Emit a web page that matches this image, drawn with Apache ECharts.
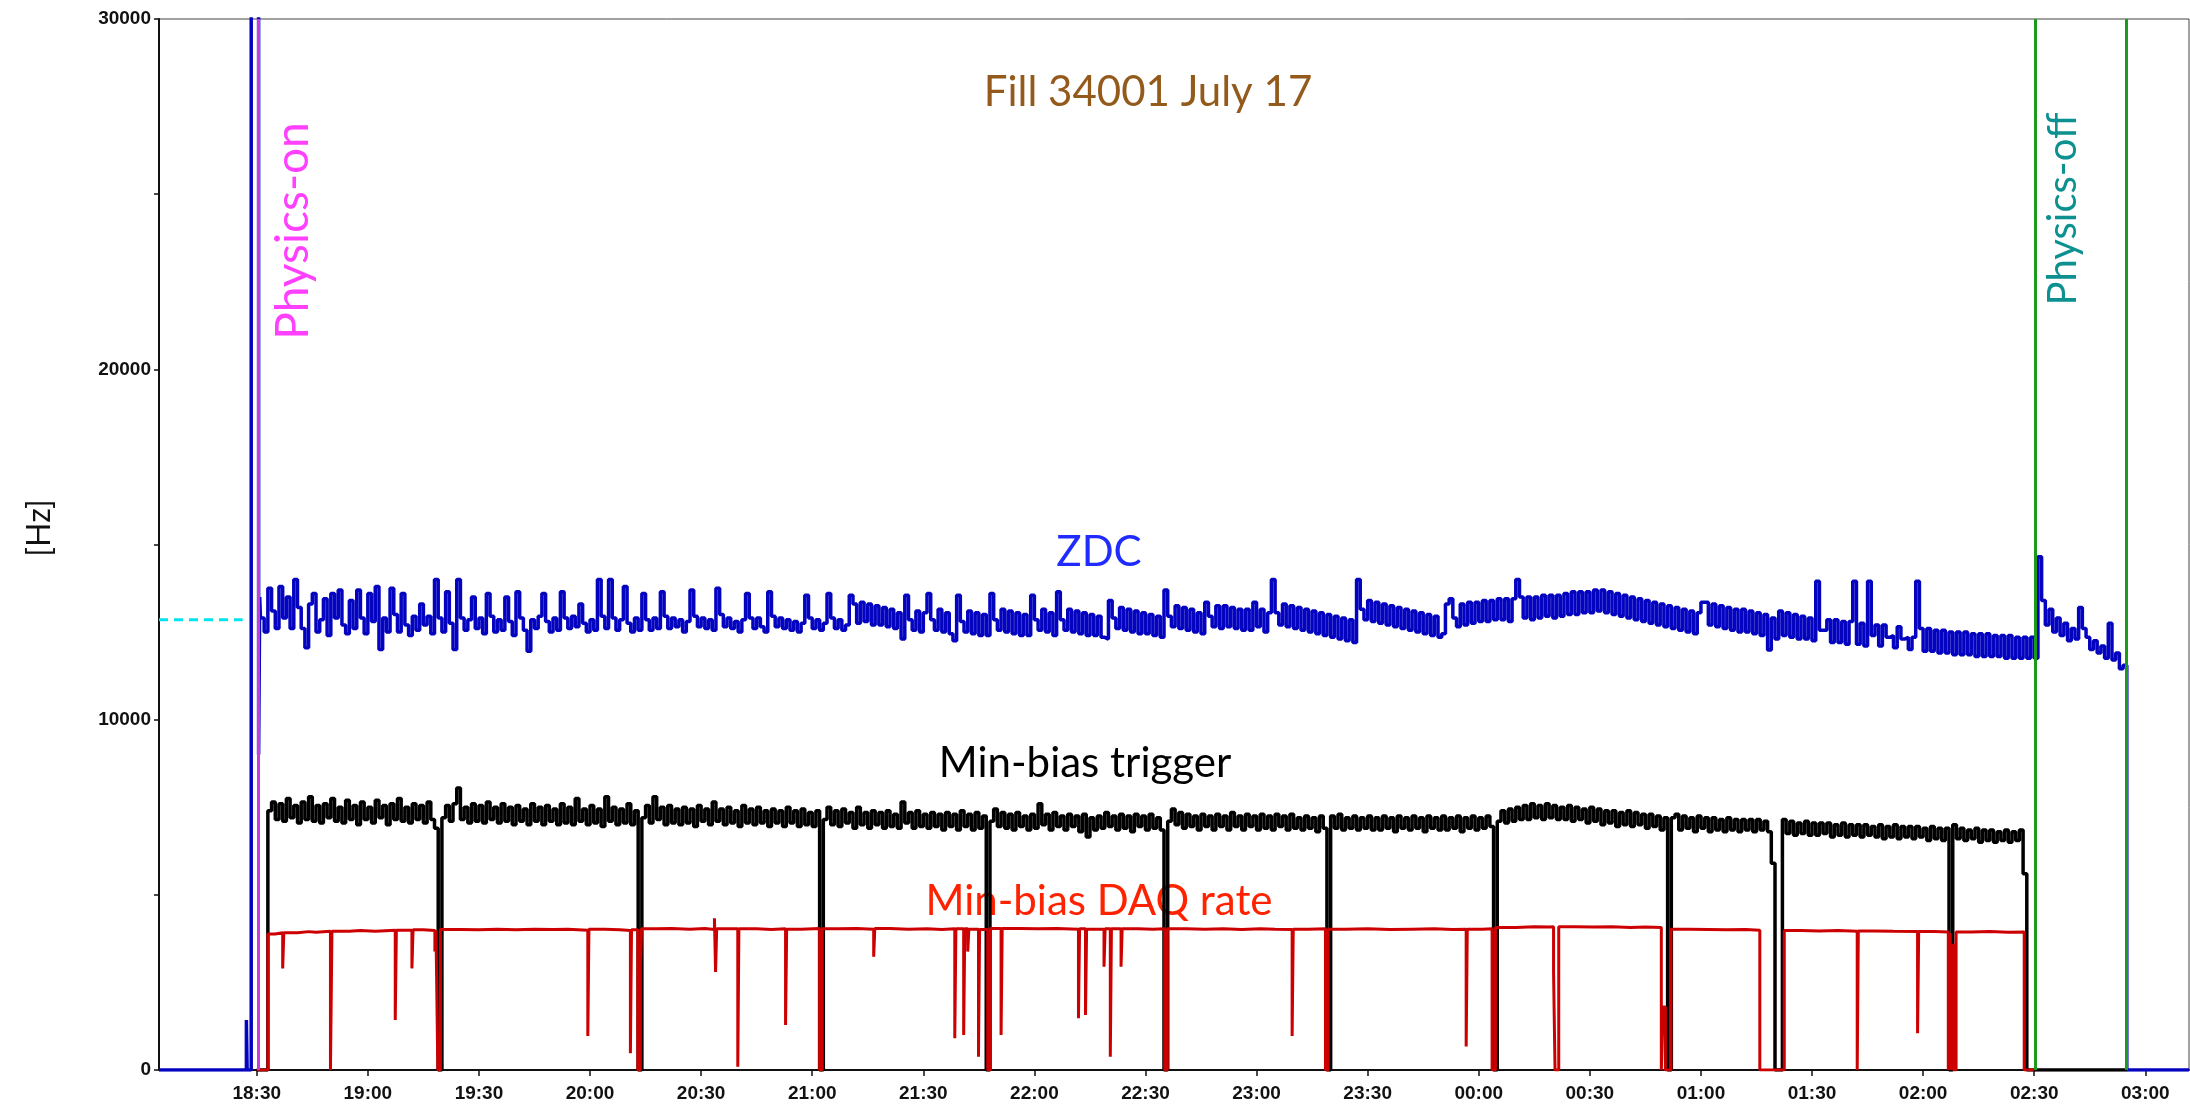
<!DOCTYPE html>
<html>
<head>
<meta charset="utf-8">
<title>Fill 34001 July 17</title>
<script src="https://cdn.jsdelivr.net/npm/echarts@6/dist/echarts.min.js"></script>
<style>
  html, body { margin: 0; padding: 0; background: #fff; }
  #main { width: 2190px; height: 1107px; }
</style>
</head>
<body>
<div id="main"></div>
<script>
// all times are minutes after 18:00 (July 17)
const tickMinutes = [30, 60, 90, 120, 150, 180, 210, 240, 270, 300, 330, 360, 390, 420, 450, 480, 510, 540];
const tickLabels = ['18:30', '19:00', '19:30', '20:00', '20:30', '21:00', '21:30', '22:00', '22:30',
  '23:00', '23:30', '00:00', '00:30', '01:00', '01:30', '02:00', '02:30', '03:00'];

const physicsOn = [30.3];
const physicsOff = [510.3, 534.9];

// dashed reference level before physics-on
const refLevel = 12850;
const refSpan = [3.6, 26.2];

// ZDC rate [Hz]
const zdcLead = [[3.6, 0], [27.2, 1430], [27.4, 0], [28.5, 40000], [30.5, 9000], [30.8, 13500]];
const zdcStart = 31; // one value per minute from here
const zdcRate = [
  12900, 12500, 13750, 13100, 12600, 13800, 12900, 13500, 12600, 14000,
  13200, 12600, 12050, 13300, 13600, 12500, 12850, 13450, 12400, 13600,
  12900, 13700, 12700, 12450, 13400, 12600, 13700, 12900, 12450, 13600,
  12800, 13800, 12000, 12900, 12500, 13750, 13000, 12500, 13600, 12700,
  12400, 12950, 12550, 13300, 12700, 12950, 12450, 14000, 12900, 12500,
  13650, 12750, 12000, 14000, 12900, 12550, 12850, 13500, 12600, 12900,
  12450, 13600, 12950, 12500, 12850, 12550, 13500, 12800, 12400, 13650,
  12900, 12550, 11950, 12850, 12600, 12950, 13600, 12800, 12500, 12900,
  12550, 13650, 12900, 12600, 12950, 12650, 13300, 12750, 12500, 12850,
  12550, 14000, 12950, 12600, 14000, 12900, 12550, 12850, 13800, 12750,
  12500, 12900, 12550, 13600, 12850, 12550, 12900, 12600, 13650, 12950,
  12600, 12900, 12650, 12850, 12500, 12800, 13700, 12950, 12650, 12900,
  12600, 12850, 12550, 13750, 13000, 12650, 12900, 12600, 12800, 12500,
  12850, 13600, 12900, 12600, 12900, 12650, 12500, 13650, 12950, 12650,
  12900, 12600, 12850, 12550, 12800, 12500, 12750, 13550, 12900, 12600,
  12850, 12550, 12750, 13600, 12900, 12600, 12850, 12550, 12700, 13550,
  13300, 12750, 13350, 12800, 13300, 12700, 13250, 12700, 13200, 12650,
  13150, 12600, 13050, 12300, 13550, 12850, 12550, 13100, 12500, 13050,
  13600, 12850, 12550, 13150, 12500, 13050, 12450, 12250, 13550, 12800,
  12500, 13100, 12450, 13050, 12400, 13000, 12400, 13600, 12850, 12550,
  13150, 12500, 13100, 12450, 13050, 12400, 13000, 12400, 13550, 12850,
  12550, 13150, 12500, 13050, 12400, 13650, 12850, 12550, 13150, 12500,
  13100, 12450, 13050, 12400, 13000, 12400, 12950, 12350, 12300, 13400,
  12900, 12600, 13200, 12550, 13150, 12500, 13100, 12450, 13050, 12450,
  13000, 12400, 12950, 12350, 13700, 12950, 12650, 13250, 12600, 13200,
  12550, 13150, 12500, 13050, 12450, 13350, 12950, 12650, 13250, 12600,
  13250, 12650, 13200, 12600, 13150, 12550, 13150, 12550, 13350, 12650,
  13150, 12500, 13050, 14000, 13050, 12700, 13300, 12650, 13250, 12600,
  13200, 12550, 13150, 12500, 13100, 12450, 13050, 12400, 13000, 12350,
  12950, 12300, 12900, 12250, 12850, 12200, 14000, 13150, 12850, 13400,
  12800, 13350, 12750, 13300, 12700, 13250, 12650, 13200, 12600, 13150,
  12550, 13100, 12500, 13050, 12450, 13000, 12400, 12950, 12350, 12450,
  13300, 13450, 12900, 12650, 13300, 12700, 13350, 12750, 13350, 12800,
  13400, 12800, 13400, 12850, 13450, 12850, 13450, 12800, 13450, 14000,
  13500, 12900, 13500, 12850, 13500, 12900, 13550, 12950, 13550, 12900,
  13550, 12950, 13600, 13000, 13650, 13000, 13650, 13050, 13650, 13050,
  13700, 13100, 13700, 13050, 13650, 13000, 13600, 12950, 13550, 12900,
  13500, 12850, 13450, 12800, 13400, 12750, 13350, 12700, 13300, 12650,
  13250, 12600, 13200, 12550, 13150, 12500, 13100, 12450, 13050, 13350,
  13350, 12700, 13300, 12650, 13250, 12600, 13200, 12550, 13150, 12500,
  13150, 12500, 13100, 12450, 13050, 12400, 13000, 11990, 12900, 12300,
  13100, 12400, 13050, 12350, 13000, 12300, 12950, 12300, 12900, 12250,
  13950, 12550, 12550, 12850, 12200, 12850, 12200, 12800, 12150, 12800,
  13950, 12150, 12750, 12100, 13950, 12400, 12700, 12100, 12700, 12350,
  12400, 12050, 12650, 12300, 12350, 12000, 12350, 13950, 12600, 11950,
  12600, 11950, 12550, 11900, 12550, 11900, 12500, 11850, 12500, 11850,
  12500, 11850, 12450, 11800, 12450, 11800, 12450, 11800, 12400, 11800,
  12400, 11750, 12400, 11750, 12350, 11750, 12350, 11750, 12350, 11750,
  14650, 13400, 12700, 13150, 12500, 12900, 12400, 12750, 12250, 12600,
  12300, 13200, 12600, 12350, 12000, 12250, 11900, 12100, 11750, 12750,
  11700, 11900, 11450, 11550
];
const zdcTail = [[535, 0], [551.8, 0]];

// Min-bias trigger rate [Hz], one value per minute, one list per run
const trigStarts = [33, 80, 134, 183, 228, 276, 320, 365, 412, 442, 488];
const trigRuns = [
  [7400, 7650, 7150, 7600, 7100, 7750, 7200, 7550, 7050, 7650,
   7150, 7800, 7100, 7550, 7050, 7600, 7200, 7750, 7100, 7500,
   7050, 7700, 7150, 7550, 7000, 7650, 7150, 7500, 7050, 7700,
   7200, 7550, 7000, 7600, 7150, 7750, 7100, 7500, 7050, 7600,
   7150, 7550, 7050, 7650, 7150, 6900],
  [7200, 7550, 7100,
   7600, 8050, 7150, 7500, 7050, 7600, 7100, 7550, 7050, 7650,
   7150, 7500, 7050, 7600, 7100, 7500, 7000, 7550, 7100, 7450,
   7000, 7600, 7100, 7500, 7000, 7550, 7100, 7450, 7000, 7600,
   7050, 7500, 7000, 7750, 7100, 7450, 7000, 7550, 7050, 7450,
   6950, 7800, 7100, 7500, 7000, 7450, 7050, 7600, 7000, 7400],
  [7200, 7550, 7050, 7800, 7150, 7500, 7000, 7550, 7050, 7450,
   7000, 7500, 7050, 7450, 6950, 7550, 7100, 7450, 7000, 7650,
   7100, 7450, 7000, 7500, 7050, 7400, 6950, 7550, 7050, 7450,
   7000, 7500, 7050, 7400, 6950, 7450, 7050, 7400, 6950, 7500,
   7050, 7400, 6950, 7450, 7000, 7350, 6950, 7400],
  [7150, 7500, 7000, 7400, 6950, 7450, 7050, 7350, 6900, 7500,
   7000, 7350, 6900, 7400, 7000, 7350, 6900, 7400, 6950, 7300,
   6900, 7650, 7050, 7350, 6900, 7400, 6950, 7300, 6900, 7350,
   6950, 7300, 6850, 7350, 6950, 7300, 6850, 7400, 6950, 7300,
   6850, 7350, 6900, 7250],
  [7100, 7450, 6950, 7350, 6900, 7300, 6850, 7350, 6950, 7250,
   6850, 7300, 6900, 7600, 7000, 7300, 6850, 7350, 6950, 7250,
   6850, 7300, 6950, 7250, 6800, 7300, 6650, 7200, 6850, 7250,
   6900, 7350, 6950, 7250, 6850, 7300, 6900, 7250, 6800, 7300,
   6950, 7250, 6850, 7300, 6900, 7200, 6850],
  [7100, 7450, 7000, 7350, 6900, 7300, 6950, 7250, 6850, 7300,
   6950, 7250, 6850, 7300, 6950, 7250, 6850, 7350, 6950, 7250,
   6850, 7300, 6950, 7250, 6850, 7300, 6900, 7250, 6850, 7300,
   6950, 7250, 6850, 7300, 6900, 7200, 6850, 7250, 6900, 7200,
   6800, 7250, 6900],
  [7250, 6900, 7300, 6850, 7200, 6900, 7250, 6850, 7200, 6900,
   7250, 6850, 7200, 6850, 7250, 6900, 7200, 6800, 7250, 6900,
   7200, 6850, 7250, 6900, 7200, 6800, 7250, 6900, 7200, 6850,
   7250, 6850, 7200, 6900, 7250, 6800, 7200, 6900, 7250, 6850,
   7200, 6900, 7250, 6950],
  [7100, 7400, 7050, 7450, 7100, 7500, 7150, 7550, 7150, 7600,
   7200, 7550, 7150, 7600, 7200, 7550, 7150, 7500, 7150, 7550,
   7100, 7500, 7150, 7450, 7050, 7500, 7100, 7450, 7000, 7400,
   7050, 7400, 6950, 7350, 7000, 7400, 6950, 7350, 7000, 7300,
   6900, 7300, 6950, 7250, 6850, 7200],
  [7200, 7300, 6850, 7250, 6900, 7200, 6800, 7250, 6900, 7200,
   6800, 7200, 6850, 7150, 6800, 7200, 6850, 7150, 6800, 7150,
   6850, 7150, 6800, 7150, 6850, 7100, 6800, 5900],
  [7150, 6750, 7100, 6700, 7050, 6750, 7100, 6700, 7050, 6700,
   7050, 6750, 7050, 6650, 7000, 6700, 7050, 6650, 7000, 6700,
   7000, 6650, 7000, 6700, 6950, 6650, 7000, 6600, 6950, 6650,
   7000, 6600, 6950, 6650, 6950, 6600, 6950, 6650, 6900, 6550,
   6950, 6600, 6900, 6550, 6900],
  [7000, 6600, 6900, 6550, 6850, 6600, 6900, 6500, 6850, 6550,
   6850, 6500, 6800, 6550, 6850, 6500, 6800, 6550, 6850, 5600]
];

// Min-bias DAQ rate [Hz] as [minute, rate] (rate holds until the next entry)
const daqRate = [
  [30, 0], [33.0, 3880], [35, 3920], [37.0, 2900], [37.3, 3920], [41, 3950], [44, 3930], [46, 3960],
  [49.9, 0], [50.3, 3960], [55, 3980], [58, 3960], [62, 3990], [67.4, 1430], [67.7, 3990],
  [71.9, 2900], [72.2, 4000], [75, 3980], [78.1, 3380], [78.4, 3990], [78.9, 0], [79.6, 4010],
  [85, 4000], [90, 4020], [95, 4000], [100, 4020], [105, 4010], [110, 4020], [114, 3990],
  [119.4, 970], [119.7, 4020], [124, 4000], [128, 3980], [130.9, 480], [131.2, 4000],
  [132.9, 0], [133.6, 3000], [133.9, 4030], [138, 4040], [142, 4020], [147, 4040], [151, 4010],
  [153.6, 4330], [153.9, 2800], [154.2, 4030], [159.9, 95], [160.2, 4030], [165, 4010],
  [169, 4030], [172.8, 1285], [173.1, 4020], [177, 4040], [182.0, 0], [182.7, 4030],
  [187, 4040], [192, 4020], [196.6, 3235], [196.9, 4040], [201, 4020], [206, 4030],
  [211, 4010], [215, 4030], [218.5, 905], [218.8, 4030], [220.9, 1000], [221.2, 4030],
  [222.0, 3380], [222.3, 4020], [224.9, 380], [225.2, 4010], [227.4, 0], [228.1, 4040],
  [231.0, 1000], [231.3, 4040], [236, 4030], [241, 4040], [246, 4020], [251.9, 1475],
  [252.2, 4030], [253.8, 1570], [254.1, 4020], [258.8, 2950], [259.1, 4030], [260.5, 380],
  [260.8, 4030], [263.4, 2950], [263.7, 4030], [268, 4020], [272, 4030], [275.2, 0],
  [275.9, 4030], [281, 4020], [286, 4030], [291, 4010], [296, 4030], [301, 4020], [305, 4010],
  [309.6, 970], [309.9, 4020], [314, 4030], [318.6, 0], [319.3, 4020], [324, 4030],
  [330, 4010], [336, 4020], [342, 4030], [348, 4010], [353, 4020], [356.6, 670], [356.9, 4020],
  [361, 4030], [363.6, 0], [364.5, 4070], [370, 4090], [375, 4080], [379, 4090],
  [380.2, 2800], [380.6, 0], [381.6, 4090], [386, 4080], [391, 4090], [396, 4070],
  [401, 4080], [405, 4070], [409.3, 0], [409.8, 1800], [410.4, 0], [411.9, 4020],
  [417, 4010], [422, 4000], [427, 4010], [432, 3990], [435.9, 0], [442.5, 3980], [447, 3970],
  [452, 3980], [457, 3960], [462.2, 0], [462.5, 3970], [467, 3960], [472, 3950],
  [478.5, 1050], [478.8, 3950], [483, 3940], [486.8, 0], [487.3, 3900], [487.6, 0],
  [488.1, 3600], [488.3, 0], [488.9, 3940], [493, 3950], [498, 3930], [503, 3940],
  [507.3, 0], [510, 0]
];

const zdcData = zdcLead.concat(zdcRate.map((v, i) => [zdcStart + i, v]), zdcTail);

const trigData = [[30, 0]];
trigRuns.forEach((run, k) => {
  run.forEach((v, i) => trigData.push([trigStarts[k] + i, v]));
  trigData.push([trigStarts[k] + run.length, 0]);
});
trigData.push([535, 0]);

const markerLines = physicsOn.map(x => ({ xAxis: x, lineStyle: { color: '#c83cd8', width: 3, type: 'solid' } }))
  .concat(physicsOff.map(x => ({ xAxis: x, lineStyle: { color: '#1c9a1c', width: 3, type: 'solid' } })));

const annFont = 'Lato, "Open Sans", sans-serif';
function note(text, x, y, size, color, rot) {
  return {
    type: 'text', x: x, y: y, rotation: rot || 0, z: 0,
    style: { text: text, fill: color, fontSize: size, fontFamily: annFont, align: 'center', verticalAlign: 'middle' }
  };
}

const chart = echarts.init(document.getElementById('main'));
const option = {
  animation: false,
  backgroundColor: '#ffffff',
  grid: { left: 159, right: 1, top: 19, bottom: 37, show: true, borderColor: '#444', borderWidth: 1 },
  xAxis: {
    type: 'value', min: 3.6, max: 551.8,
    axisLine: { show: true, lineStyle: { color: '#111', width: 2 } },
    axisTick: { show: true, customValues: tickMinutes, length: 6, lineStyle: { color: '#111', width: 1.5 } },
    axisLabel: {
      customValues: tickMinutes, margin: 14,
      formatter: v => tickLabels[tickMinutes.indexOf(v)],
      fontSize: 19, fontWeight: 'bold', fontFamily: '"Liberation Sans", Arial, sans-serif', color: '#111'
    },
    splitLine: { show: false }
  },
  yAxis: {
    type: 'value', min: 0, max: 30000, interval: 5000,
    axisLine: { show: true, lineStyle: { color: '#111', width: 2 } },
    axisTick: { show: true, length: 5, lineStyle: { color: '#111', width: 1.5 } },
    axisLabel: {
      margin: 8,
      formatter: v => (v % 10000 === 0 ? String(v) : ''),
      fontSize: 19, fontWeight: 'bold', fontFamily: '"Liberation Sans", Arial, sans-serif', color: '#111'
    },
    splitLine: { show: false }
  },
  graphic: [
    note('Fill 34001 July 17', 1148, 92, 42, '#935a1b'),
    note('ZDC', 1099, 552, 42, '#1f2bff'),
    note('Min-bias trigger', 1085, 763, 42, '#000000'),
    note('Min-bias DAQ rate', 1099, 901, 42, '#ff2200'),
    note('Physics-on', 293, 231, 46, '#ff40ff', Math.PI / 2),
    note('Physics-off', 2063, 209, 40, '#0d9090', Math.PI / 2),
    note('[Hz]', 40, 528, 32, '#111111', Math.PI / 2)
  ],
  series: [
    {
      name: 'ZDC', type: 'line', step: 'end', showSymbol: false, z: 2,
      data: zdcData,
      lineStyle: { color: '#0404c0', width: 3.5 }
    },
    {
      name: 'Min-bias trigger', type: 'line', step: 'end', showSymbol: false, z: 3,
      data: trigData,
      lineStyle: { color: '#000000', width: 3.5 }
    },
    {
      name: 'Min-bias DAQ rate', type: 'line', step: 'end', showSymbol: false, z: 4,
      data: daqRate,
      lineStyle: { color: '#cc0000', width: 3 },
      markLine: {
        silent: true, symbol: ['none', 'none'], label: { show: false },
        data: markerLines
      }
    },
    {
      name: 'reference', type: 'line', showSymbol: false, z: 5,
      data: [[refSpan[0], refLevel], [refSpan[1], refLevel]],
      lineStyle: { color: '#00e4f0', width: 3, type: [9, 6] }
    }
  ]
};
chart.setOption(option);
</script>
</body>
</html>
